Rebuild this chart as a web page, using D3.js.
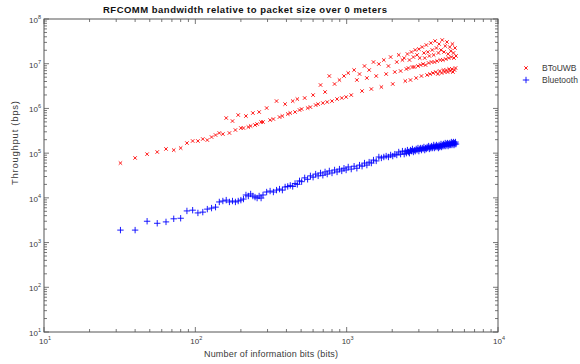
<!DOCTYPE html>
<html lang="en">
<head>
  <meta charset="utf-8">
  <title>RFCOMM bandwidth</title>
  <script src="https://cdn.jsdelivr.net/npm/d3@7"></script>
  <style>
  body { margin: 0; background: #fff; overflow: hidden; }
  text { font-family: "Liberation Sans", Arial, sans-serif; fill: #3a3a3a; }
  </style>
</head>
<body>
<script>
  // packet sizes (bits) shared by both series
  var packetBits = [
    32, 40, 48, 56, 64, 72, 80, 88, 96, 104, 112, 120, 128, 136, 144, 152, 160, 168, 176, 184, 192, 200,
    208, 216, 224, 232, 240, 248, 256, 264, 272, 280,
    296, 312, 328, 344, 360, 376, 392, 408, 424, 440, 456, 472, 488, 504,
    528, 552, 576, 600, 624, 648, 672, 696, 720, 744, 768,
    800, 832, 864, 896, 928, 960, 992, 1024,
    1072, 1120, 1168, 1216, 1264, 1312, 1360, 1408, 1456, 1504,
    1568, 1632, 1696, 1760, 1824, 1888, 1952, 2016, 2080, 2144, 2208, 2272, 2336,
    2400, 2440, 2480, 2520, 2560, 2600, 2640, 2680, 2720, 2760, 2800, 2840, 2880, 2920, 2960,
    3000, 3040, 3080, 3120, 3160, 3200, 3240, 3280, 3320, 3360, 3400, 3440, 3480, 3520, 3560,
    3600, 3640, 3680, 3720, 3760, 3800, 3840, 3880, 3920, 3960, 4000, 4040, 4080, 4120, 4160,
    4200, 4240, 4280, 4320, 4360, 4400, 4440, 4480, 4520, 4560, 4600, 4640, 4680, 4720, 4760,
    4800, 4840, 4880, 4920, 4960, 5000, 5040, 5080, 5120, 5160, 5200, 5240, 5280
  ];

  // throughput (bps), Bluetooth
  var bluetoothBps = [
    1.9e3, 1.9e3, 3.0e3, 2.7e3, 2.9e3, 3.4e3, 3.5e3, 5.1e3, 5.3e3, 4.6e3, 4.8e3, 5.6e3, 5.9e3, 6.2e3, 8.1e3, 8.5e3, 8.9e3, 8.1e3, 8.5e3, 8.1e3, 8.5e3, 8.9e3,
    9.4e3, 1.16e4, 1.10e4, 1.22e4, 1.10e4, 1.04e4, 9.9e3, 1.10e4, 9.9e3, 1.16e4,
    1.35e4, 1.42e4, 1.35e4, 1.49e4, 1.57e4, 1.49e4, 1.75e4, 1.8e4, 1.9e4, 1.8e4, 2.1e4, 2.0e4, 2.4e4, 2.3e4,
    2.8e4, 2.6e4, 3.1e4, 2.9e4, 3.4e4, 3.1e4, 3.6e4, 3.2e4, 3.8e4, 3.4e4, 4.0e4,
    3.6e4, 4.2e4, 3.8e4, 4.4e4, 4.0e4, 4.6e4, 4.2e4, 4.9e4,
    4.4e4, 5.1e4, 4.6e4, 5.4e4, 5.1e4, 6.0e4, 5.4e4, 6.3e4, 6.0e4, 7.0e4,
    6.7e4, 8.2e4, 7.8e4, 8.2e4, 8.6e4, 8.2e4, 9.1e4, 8.6e4, 9.5e4, 9.1e4, 1.06e5, 9.5e4, 1.11e5,
    9.5e4, 1.11e5, 1.00e5, 1.17e5, 1.06e5, 1.00e5, 1.17e5, 1.11e5, 1.24e5, 1.06e5, 1.17e5, 1.11e5, 1.24e5, 1.17e5, 1.30e5,
    1.11e5, 1.24e5, 1.30e5, 1.17e5, 1.30e5, 1.24e5, 1.37e5, 1.17e5, 1.30e5, 1.24e5, 1.37e5, 1.30e5, 1.44e5, 1.24e5, 1.37e5,
    1.30e5, 1.44e5, 1.30e5, 1.37e5, 1.52e5, 1.30e5, 1.44e5, 1.37e5, 1.52e5, 1.37e5, 1.44e5, 1.30e5, 1.52e5, 1.37e5, 1.44e5,
    1.60e5, 1.37e5, 1.52e5, 1.44e5, 1.60e5, 1.44e5, 1.52e5, 1.68e5, 1.44e5, 1.60e5, 1.52e5, 1.68e5, 1.44e5, 1.60e5, 1.52e5,
    1.68e5, 1.52e5, 1.60e5, 1.77e5, 1.52e5, 1.68e5, 1.60e5, 1.77e5, 1.52e5, 1.68e5, 1.60e5, 1.77e5, 1.60e5
  ];

  // throughput (bps), BToUWB
  var btouwbBps = [
    6.0e4, 7.8e4, 9.5e4, 1.06e5, 1.24e5, 1.17e5, 1.30e5, 1.68e5, 1.87e5, 1.87e5, 2.07e5, 1.96e5, 2.29e5, 2.54e5, 2.82e5, 2.67e5, 6.10e5, 2.82e5, 5.22e5, 3.29e5, 7.12e5, 3.64e5,
    3.64e5, 6.76e5, 3.84e5, 4.04e5, 7.89e5, 4.25e5, 4.48e5, 8.31e5, 4.96e5, 4.96e5,
    1.02e6, 5.50e5, 5.79e5, 1.46e6, 6.42e5, 6.76e5, 1.25e6, 7.50e5, 7.89e5, 1.46e6, 8.31e5, 1.62e6, 9.21e5, 9.70e5,
    1.71e6, 1.02e6, 1.07e6, 1.99e6, 1.19e6, 1.25e6, 3.34e6, 1.32e6, 2.33e6, 1.39e6, 5.31e6,
    1.46e6, 3.52e6, 1.62e6, 4.32e6, 1.71e6, 5.31e6, 1.80e6, 6.19e6,
    1.99e6, 7.23e6, 4.32e6, 5.88e6, 2.45e6, 8.88e6, 4.79e6, 7.23e6, 2.72e6, 1.09e7,
    5.31e6, 9.85e6, 3.01e6, 1.21e7, 5.88e6, 8.88e6, 1.41e7, 3.52e6, 6.52e6, 1.09e7, 1.57e7, 6.87e6, 1.21e7,
    1.34e7, 4.10e6, 7.61e6, 1.65e7, 8.01e6, 1.21e7, 4.32e6, 1.83e7, 8.44e6, 1.41e7, 8.44e6, 2.03e7, 4.79e6, 1.57e7, 8.88e6,
    2.13e7, 1.34e7, 9.35e6, 5.31e6, 2.36e7, 9.85e6, 1.74e7, 1.34e7, 9.35e6, 2.62e7, 5.59e6, 1.83e7, 1.04e7, 1.49e7, 5.88e6,
    2.90e7, 1.09e7, 2.03e7, 6.19e6, 1.57e7, 1.09e7, 3.22e7, 6.52e6, 2.25e7, 1.15e7, 5.88e6, 1.74e7, 2.76e7, 6.87e6, 1.21e7,
    2.03e7, 6.19e6, 3.39e7, 1.21e7, 7.23e6, 1.83e7, 6.52e6, 2.49e7, 1.27e7, 7.23e6, 3.06e7, 6.52e6, 1.65e7, 1.34e7, 7.61e6,
    2.36e7, 6.87e6, 1.92e7, 1.41e7, 7.61e6, 2.76e7, 6.52e6, 1.74e7, 1.34e7, 7.23e6, 2.25e7, 8.01e6, 1.49e7
  ];

  var xTickExps = [1, 2, 3, 4];
  var yTickExps = [1, 2, 3, 4, 5, 6, 7, 8];
  var seriesNames = ['BToUWB', 'Bluetooth'];
  var seriesColors = ['#ff0000', '#0000ff'];

  var w = 580, h = 364;
  // plot box edges (note: "top" is a reserved window global, so not used here)
  var boxL = 44, boxR = 498, boxT = 19, boxB = 332;

  var svg = d3.select('body').append('svg')
    .attr('width', w)
    .attr('height', h);

  var x = d3.scaleLog().domain([10, 1e4]).range([boxL, boxR]);
  var y = d3.scaleLog().domain([10, 1e8]).range([boxB, boxT]);

  function isMajor(v) {
    var l = Math.log10(v);
    return Math.abs(l - Math.round(l)) < 1e-9;
  }

  var plusPath = 'M-3.2,0H3.2M0,-3.2V3.2';
  var timesPath = 'M-1.7,-1.7L1.7,1.7M-1.7,1.7L1.7,-1.7';

  // title
  svg.append('text')
    .attr('x', 245).attr('y', 13)
    .attr('text-anchor', 'middle')
    .attr('textLength', 284)
    .style('font-size', '9.5px')
    .style('font-weight', 'bold')
    .style('fill', '#111')
    .text('RFCOMM bandwidth relative to packet size over 0 meters');

  // data
  var blue = packetBits.map(function(b, i) { return {x: b, y: bluetoothBps[i]}; })
    .filter(function(d) { return d.y != null; });
  var red = packetBits.map(function(b, i) { return {x: b, y: btouwbBps[i]}; })
    .filter(function(d) { return d.y != null; });

  svg.append('g').selectAll('path')
    .data(red)
    .enter().append('path')
    .attr('d', timesPath)
    .attr('transform', function(d) { return 'translate(' + x(d.x) + ',' + y(d.y) + ')'; })
    .attr('stroke', seriesColors[0])
    .attr('stroke-width', 0.9)
    .attr('fill', 'none');

  svg.append('g').selectAll('path')
    .data(blue)
    .enter().append('path')
    .attr('d', plusPath)
    .attr('transform', function(d) { return 'translate(' + x(d.x) + ',' + y(d.y) + ')'; })
    .attr('stroke', seriesColors[1])
    .attr('stroke-width', 0.9)
    .attr('fill', 'none');

  // frame
  svg.append('rect')
    .attr('x', boxL).attr('y', boxT)
    .attr('width', boxR - boxL).attr('height', boxB - boxT)
    .attr('fill', 'none')
    .attr('stroke', '#555')
    .attr('stroke-width', 1);

  // ticks on all four sides, pointing inward
  var ticks = svg.append('g').attr('stroke', '#555').attr('stroke-width', 0.8);
  var xt = x.ticks();
  var yt = y.ticks();

  ticks.selectAll('.xb').data(xt).enter().append('line')
    .attr('x1', function(d) { return x(d); }).attr('x2', function(d) { return x(d); })
    .attr('y1', boxB).attr('y2', function(d) { return boxB - (isMajor(d) ? 5 : 3); });
  ticks.selectAll('.xtop').data(xt).enter().append('line')
    .attr('x1', function(d) { return x(d); }).attr('x2', function(d) { return x(d); })
    .attr('y1', boxT).attr('y2', function(d) { return boxT + (isMajor(d) ? 5 : 3); });
  ticks.selectAll('.yl').data(yt).enter().append('line')
    .attr('y1', function(d) { return y(d); }).attr('y2', function(d) { return y(d); })
    .attr('x1', boxL).attr('x2', function(d) { return boxL + (isMajor(d) ? 5 : 3); });
  ticks.selectAll('.yr').data(yt).enter().append('line')
    .attr('y1', function(d) { return y(d); }).attr('y2', function(d) { return y(d); })
    .attr('x1', boxR).attr('x2', function(d) { return boxR - (isMajor(d) ? 5 : 3); });

  // tick labels 10^n
  svg.selectAll('.xlab').data(xTickExps).enter().append('text')
    .attr('x', function(d) { return x(Math.pow(10, d)) + 1; })
    .attr('y', 344)
    .attr('text-anchor', 'middle')
    .style('font-size', '8px')
    .each(function(d) {
      var t = d3.select(this);
      t.append('tspan').text('10');
      t.append('tspan').attr('dy', -4).style('font-size', '5.5px').text(d);
    });

  svg.selectAll('.ylab').data(yTickExps).enter().append('text')
    .attr('x', 41)
    .attr('y', function(d) { return y(Math.pow(10, d)) + 4; })
    .attr('text-anchor', 'end')
    .style('font-size', '8px')
    .each(function(d) {
      var t = d3.select(this);
      t.append('tspan').text('10');
      t.append('tspan').attr('dy', -4).style('font-size', '5.5px').text(d);
    });

  // axis titles
  svg.append('text')
    .attr('x', 271).attr('y', 357)
    .attr('text-anchor', 'middle')
    .attr('textLength', 134)
    .style('font-size', '9px')
    .text('Number of information bits (bits)');

  svg.append('text')
    .attr('transform', 'translate(18,143) rotate(-90)')
    .attr('text-anchor', 'middle')
    .attr('textLength', 84)
    .style('font-size', '9.5px')
    .text('Throughput (bps)');

  // legend (runs off the right edge like the original)
  var legend = svg.append('g');
  var legendRows = [
    {name: seriesNames[0], color: seriesColors[0], path: timesPath, y: 68},
    {name: seriesNames[1], color: seriesColors[1], path: plusPath, y: 80}
  ];
  legend.selectAll('path').data(legendRows).enter().append('path')
    .attr('d', function(d) { return d.path; })
    .attr('transform', function(d) { return 'translate(526,' + d.y + ')'; })
    .attr('stroke', function(d) { return d.color; })
    .attr('stroke-width', 0.9)
    .attr('fill', 'none');
  legend.selectAll('text').data(legendRows).enter().append('text')
    .attr('x', 542)
    .attr('y', function(d) { return d.y + 3; })
    .style('font-size', '8.5px')
    .text(function(d) { return d.name; });
</script>
</body>
</html>
